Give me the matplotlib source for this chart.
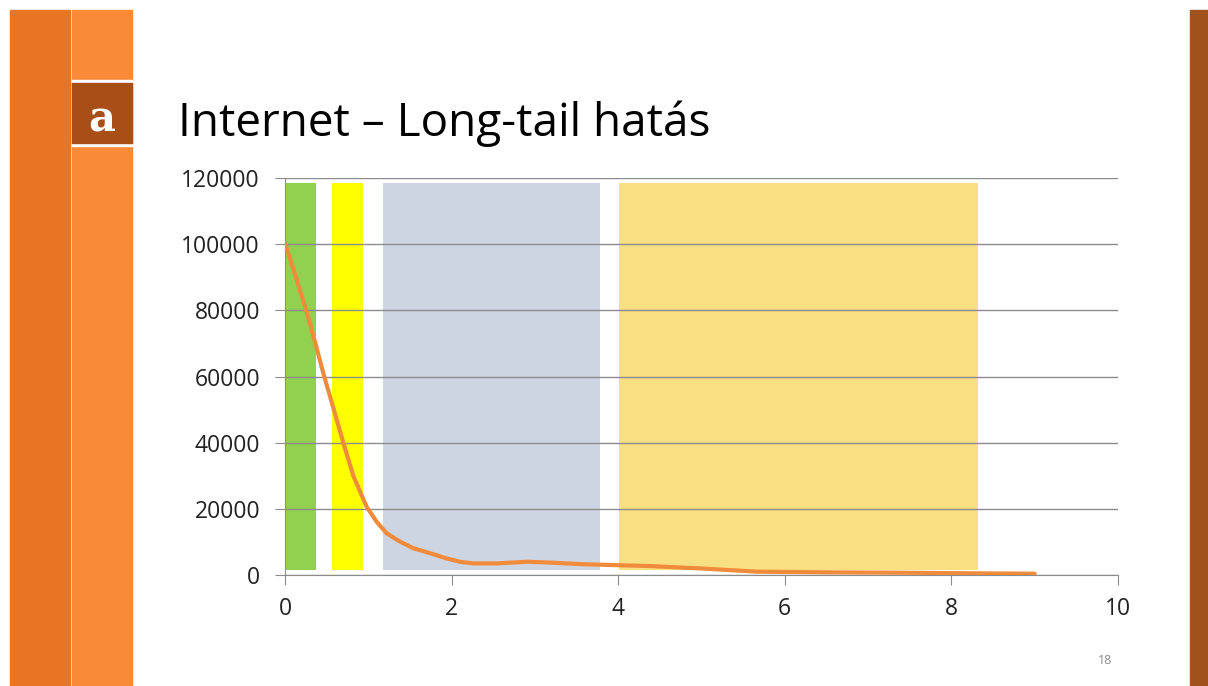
import numpy as np
import matplotlib.pyplot as plt
from matplotlib.patches import Rectangle

# curve
x_vals = [0, 0.10, 0.18, 0.26, 0.36, 0.46, 0.58, 0.70, 0.82, 0.98, 1.10, 1.22, 1.38, 1.54,
          1.78, 1.94, 2.10, 2.26, 2.54, 2.90, 3.14, 3.54, 3.94, 4.38, 4.98, 5.66, 6.58,
          7.38, 8.26, 9.0]
y_vals = [100300, 92500, 86000, 79500, 70500, 61000, 50500, 40000, 30000, 20600, 16100,
          12600, 10100, 8100, 6300, 5000, 4000, 3500, 3500, 4000, 3800, 3300, 3000, 2700,
          2000, 1000, 800, 700, 500, 400]

# coloured bands (x start, x end)
band_x0 = [0.0, 0.56, 1.18, 4.01]
band_x1 = [0.37, 0.94, 3.78, 8.32]
band_colors = ['#92D050', '#FFFF00', '#CDD5E3', '#F7DF82']
band_y0 = 1500
band_y1 = 118500

y_ticks = [0, 20000, 40000, 60000, 80000, 100000, 120000]
x_ticks = [0, 2, 4, 6, 8, 10]

W, H = 1208, 686
fig = plt.figure(figsize=(W / 100, H / 100), dpi=100)
fig.patch.set_facecolor('white')

def px_rect(x0, y0, x1, y1, color):
    # rectangle in pixel coords, y measured from top
    fig.patches.append(Rectangle((x0 / W, 1 - y1 / H), (x1 - x0) / W, (y1 - y0) / H,
                                 transform=fig.transFigure, color=color, zorder=0))

# slide decoration
px_rect(10, 10, 70, H, '#E87524')
px_rect(72, 10, 132, H, '#F98A38')
px_rect(72, 80, 132, 82, 'white')
px_rect(72, 144, 132, 146, 'white')
px_rect(72, 83, 132, 143, '#A84F17')
px_rect(1190, 10, W, H, '#A0511C')
fig.text(102 / W, 1 - 120 / H, 'a', color='white', fontsize=30, fontweight='bold',
         family='DejaVu Serif', ha='center', va='center')

fig.text(178 / W, 1 - 136 / H, 'Internet \u2013 Long-tail hatás', fontsize=33,
         family='Open Sans', ha='left', va='baseline', color='black')
fig.text(1105 / W, 1 - 661 / H, '18', fontsize=9, color='#8C8C8C', ha='center', va='center',
         family='Open Sans')

ax = fig.add_axes([285 / W, (H - 575) / H, (1118 - 285) / W, (575 - 178) / H])
ax.set_facecolor('none')
for x0, x1, c in zip(band_x0, band_x1, band_colors):
    ax.add_patch(Rectangle((x0, band_y0), x1 - x0, band_y1 - band_y0, color=c, zorder=1, lw=0))

ax.plot(x_vals, y_vals, color='#F18B3C', lw=3, zorder=3, solid_capstyle='round',
        solid_joinstyle='round')

ax.set_xlim(0, 10)
ax.set_ylim(0, 120000)
ax.set_xticks(x_ticks)
ax.set_yticks(y_ticks)
ax.yaxis.grid(True, color='#8C8C8C', lw=1)
ax.set_axisbelow(False)
for gl in ax.get_ygridlines():
    gl.set_zorder(2)
for s in ['top', 'right']:
    ax.spines[s].set_visible(False)
for s in ['left', 'bottom']:
    ax.spines[s].set_color('#8C8C8C')
    ax.spines[s].set_zorder(2)
ax.tick_params(axis='both', direction='out', length=7, color='#8C8C8C', labelsize=16.5,
               labelcolor='#222222')
ax.tick_params(axis='y', pad=11)
ax.tick_params(axis='x', pad=9)
for lab in ax.get_xticklabels() + ax.get_yticklabels():
    lab.set_family('Open Sans')

fig.savefig('out.png', dpi=100)
